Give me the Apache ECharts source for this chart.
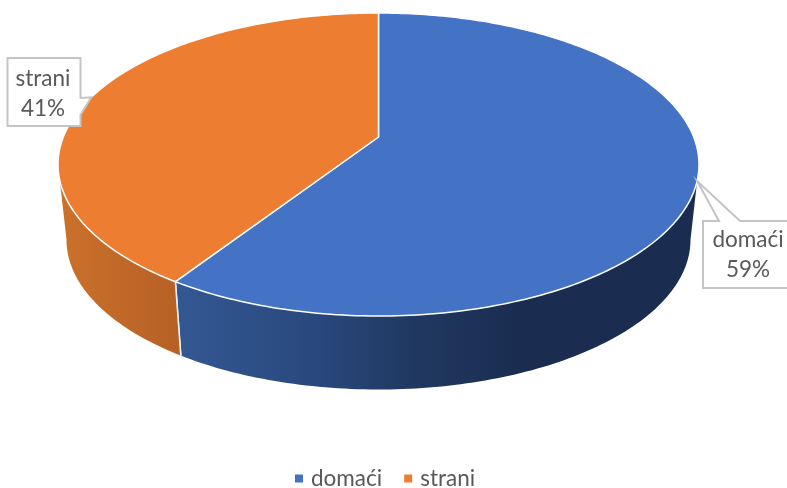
<!DOCTYPE html>
<html>
<head>
<meta charset="utf-8">
<style>html,body{margin:0;padding:0;background:#fff}#c{width:787px;height:488px}</style>
<script src="https://cdn.jsdelivr.net/npm/echarts@6/dist/echarts.min.js"></script>
</head>
<body>
<div id="c"></div>
<script>
var categories = ['domaći', 'strani'];
var shares = [59.2, 40.8];
var topColors = ['#4472c4', '#ed7d31'];

// Perspective discs: the top face and the lower rim of the pie
var cx = 378.5, persp = 0.1815;
function disc(yTop, yBot, rx) {
  return {
    a: (yTop * (1 + persp) - yBot * (1 - persp)) / 2,
    b: (yTop * (1 + persp) + yBot * (1 - persp)) / 2,
    R: rx * Math.sqrt(1 - persp * persp)
  };
}
var topDisc = disc(13, 316, 320.5);
var lowDisc = disc(90, 389.5, 312);
function pt(d, deg) {
  var t = deg * Math.PI / 180, u = Math.sin(t), v = Math.cos(t), w = 1 + persp * v;
  return [cx + d.R * u / w, (d.a * v + d.b) / w];
}
function arc(d, from, to) {
  var out = [], n = Math.max(2, Math.ceil(Math.abs(to - from)));
  for (var i = 0; i <= n; i++) out.push(pt(d, from + (to - from) * i / n));
  return out;
}
var frontFrom = 100.5, frontTo = 259.5;
var wallFills = [
  { x0: 181, x1: 520, stops: [[0, '#335792'], [0.35, '#2a4a80'], [0.7, '#203860'], [1, '#1a2d50']] },
  { x0: 60, x1: 180, stops: [[0, '#ca712b'], [1, '#b66025']] }
];
var callouts = [
  { cx: 748, cy: 255, rect: [703, 221, 90, 67], base: [[719, 221], [740, 221]], side: 'top' },
  { cx: 43, cy: 94, rect: [7.5, 58, 73, 68], base: [[80.5, 98], [80.5, 115]], side: 'right' }
];
function calloutShape(c, tip) {
  var r = c.rect, x0 = r[0], y0 = r[1], x1 = r[0] + r[2], y1 = r[1] + r[3];
  if (c.side === 'top') {
    return [[x0, y0], c.base[0], tip, c.base[1], [x1, y0], [x1, y1], [x0, y1]];
  }
  return [[x0, y0], [x1, y0], c.base[0], tip, c.base[1], [x1, y1], [x0, y1]];
}
var textFont = 'Lato, "Open Sans", sans-serif';
var total = shares.reduce(function (s, v) { return s + v; }, 0);

function slicePainter(idx) {
  return function (params, api) {
    var start = 0;
    for (var i = 0; i < idx; i++) start += shares[i] / total * 360;
    var end = start + api.value(0) / total * 360;
    var kids = [];
    var wFrom = Math.max(start, frontFrom), wTo = Math.min(end, frontTo);
    if (wTo > wFrom) {
      var f = wallFills[idx];
      var pts = arc(topDisc, wFrom, wTo).concat(arc(lowDisc, wTo, wFrom));
      kids.push({
        type: 'polygon', shape: { points: pts },
        style: { fill: { type: 'linear', x: f.x0, y: 0, x2: f.x1, y2: 0, global: true,
          colorStops: f.stops.map(function (s) { return { offset: s[0], color: s[1] }; }) } }
      });
    }
    [start, end].forEach(function (deg) {
      if (deg > frontFrom && deg < frontTo) {
        var p = pt(topDisc, deg), q = pt(lowDisc, deg);
        kids.push({ type: 'line', shape: { x1: p[0], y1: p[1], x2: q[0], y2: q[1] },
          style: { stroke: '#f4f4f4', lineWidth: 1.5 } });
      }
    });
    kids.push({
      type: 'polygon',
      shape: { points: [[cx, topDisc.b]].concat(arc(topDisc, start, end)) },
      style: { fill: topColors[idx], stroke: '#ffffff', lineWidth: 1.5, lineJoin: 'round' }
    });
    var c = callouts[idx], tip = pt(topDisc, (start + end) / 2);
    kids.push({
      type: 'polygon', z2: 10, shape: { points: calloutShape(c, tip) },
      style: { fill: '#ffffff', stroke: '#c4c4c4', lineWidth: 2 }
    });
    kids.push({
      type: 'text', z2: 11, x: c.cx, y: c.cy,
      style: {
        text: categories[idx] + '\n' + Math.round(api.value(0)) + '%',
        align: 'center', verticalAlign: 'middle', lineHeight: 30,
        fontFamily: textFont, fontSize: 22.5, fill: '#595959'
      }
    });
    return { type: 'group', children: kids };
  };
}

var chart = echarts.init(document.getElementById('c'));
chart.setOption({
  animation: false,
  backgroundColor: '#ffffff',
  legend: {
    left: 295, top: 467, padding: 0, icon: 'rect', itemWidth: 8, itemHeight: 8, itemGap: 22,
    data: categories,
    textStyle: { fontFamily: textFont, fontSize: 22.5, color: '#595959', padding: [0, 0, 0, 3] }
  },
  series: categories.map(function (name, i) {
    return {
      type: 'custom', name: name, coordinateSystem: 'none',
      silent: true, clip: false,
      itemStyle: { color: topColors[i] },
      renderItem: slicePainter(i),
      data: [[shares[i]]]
    };
  })
});
</script>
</body>
</html>
